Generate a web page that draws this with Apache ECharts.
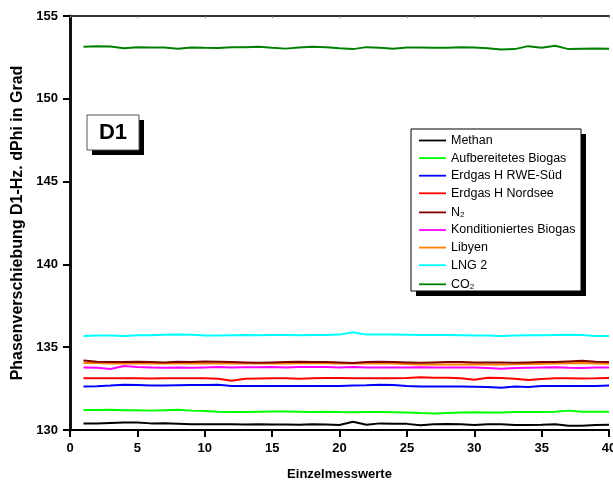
<!DOCTYPE html>
<html>
<head>
<meta charset="utf-8">
<script src="https://cdn.jsdelivr.net/npm/echarts@6/dist/echarts.min.js"></script>
<style>html,body{margin:0;padding:0;background:#fff}#c{width:613px;height:483px}</style>
</head>
<body>
<div id="c"></div>
<script>
var xValues = [];
for (var i = 1; i <= 40; i++) xValues.push(i);

var seriesNames = ['Methan','Aufbereitetes Biogas','Erdgas H RWE-Süd','Erdgas H Nordsee','N2','Konditioniertes Biogas','Libyen','LNG 2','CO2'];
var seriesColors = ['#000000','#00ff00','#0000ff','#ff0000','#800000','#ff00ff','#ff8000','#00ffff','#008000'];

var methan = [130.40,130.39,130.42,130.45,130.46,130.40,130.41,130.38,130.34,130.34,130.34,130.35,130.33,130.34,130.33,130.33,130.31,130.35,130.33,130.30,130.50,130.32,130.40,130.38,130.37,130.28,130.35,130.36,130.34,130.30,130.34,130.34,130.30,130.30,130.31,130.34,130.26,130.26,130.30,130.31];
var aufbereitet = [131.21,131.21,131.22,131.20,131.19,131.17,131.20,131.22,131.17,131.14,131.10,131.09,131.09,131.10,131.11,131.11,131.10,131.09,131.10,131.08,131.07,131.08,131.08,131.07,131.06,131.02,131.00,131.03,131.05,131.07,131.05,131.06,131.08,131.09,131.09,131.10,131.17,131.10,131.10,131.10];
var rweSued = [132.62,132.64,132.68,132.73,132.72,132.69,132.68,132.70,132.71,132.72,132.73,132.66,132.66,132.66,132.66,132.66,132.65,132.66,132.66,132.66,132.68,132.70,132.73,132.71,132.66,132.63,132.63,132.63,132.62,132.61,132.60,132.55,132.63,132.60,132.66,132.66,132.66,132.66,132.66,132.68];
var nordsee = [133.12,133.13,133.13,133.12,133.12,133.11,133.12,133.13,133.13,133.12,133.10,132.98,133.10,133.11,133.12,133.12,133.10,133.12,133.14,133.14,133.12,133.13,133.13,133.13,133.14,133.18,133.15,133.16,133.12,133.03,133.15,133.14,133.10,133.02,133.08,133.12,133.12,133.11,133.12,133.14];
var n2 = [134.20,134.12,134.10,134.10,134.12,134.10,134.08,134.12,134.10,134.14,134.12,134.10,134.08,134.06,134.08,134.10,134.12,134.10,134.10,134.08,134.05,134.10,134.12,134.10,134.08,134.06,134.08,134.10,134.10,134.08,134.07,134.08,134.06,134.08,134.10,134.10,134.14,134.18,134.12,134.10];
var konditioniert = [133.78,133.76,133.68,133.86,133.80,133.78,133.76,133.77,133.76,133.78,133.80,133.78,133.79,133.79,133.80,133.78,133.80,133.80,133.80,133.78,133.80,133.78,133.77,133.78,133.78,133.79,133.78,133.78,133.77,133.77,133.74,133.70,133.74,133.76,133.78,133.79,133.76,133.75,133.77,133.78];
var libyen = [134.05,134.04,134.02,134.03,134.02,134.03,134.02,134.02,134.03,134.02,134.02,134.03,134.02,134.02,134.01,134.02,134.03,134.04,134.03,134.02,134.02,134.02,134.02,134.01,133.98,133.96,133.95,133.95,133.96,133.97,133.96,133.96,133.97,133.99,134.00,134.01,134.03,134.04,134.02,134.00];
var lng2 = [135.68,135.70,135.70,135.68,135.72,135.72,135.75,135.76,135.75,135.70,135.70,135.72,135.73,135.72,135.74,135.73,135.72,135.74,135.74,135.76,135.90,135.76,135.76,135.76,135.75,135.74,135.73,135.73,135.72,135.70,135.70,135.68,135.70,135.72,135.72,135.74,135.75,135.73,135.68,135.68];
var co2 = [153.15,153.17,153.16,153.05,153.12,153.10,153.10,153.02,153.10,153.08,153.07,153.12,153.12,153.15,153.08,153.03,153.10,153.15,153.12,153.05,153.00,153.12,153.08,153.02,153.10,153.10,153.08,153.08,153.12,153.10,153.05,152.98,153.00,153.18,153.08,153.20,153.00,153.02,153.03,153.02];

var allData = [methan, aufbereitet, rweSued, nordsee, n2, konditioniert, libyen, lng2, co2];

var xTicks = [0,5,10,15,20,25,30,35,40];
var yTicks = [130,135,140,145,150,155];

var FONT = '"Liberation Sans", Arial, sans-serif';

var series = seriesNames.map(function (name, k) {
  return {
    name: name,
    type: 'line',
    data: xValues.map(function (x, j) { return [x, allData[k][j]]; }),
    symbol: 'none',
    showSymbol: false,
    smooth: false,
    z: name === 'N2' ? 4 : 3,
    lineStyle: { color: seriesColors[k], width: 2 },
    itemStyle: { color: seriesColors[k] }
  };
});

var chart = echarts.init(document.getElementById('c'), null, { renderer: 'canvas' });
chart.setOption({
  backgroundColor: '#fff',
  animation: false,
  grid: { left: 70, right: 4, top: 16, bottom: 53, containLabel: false, outerBoundsMode: 'none' },
  xAxis: [{
    type: 'value', min: xTicks[0], max: xTicks[xTicks.length - 1], interval: 5,
    position: 'bottom',
    name: 'Einzelmesswerte', nameLocation: 'middle', nameGap: 38,
    nameTextStyle: { fontFamily: FONT, fontWeight: 'bold', fontSize: 13, color: '#000' },
    axisLine: { show: true, lineStyle: { color: '#000', width: 2 } },
    axisTick: { show: true, inside: false, length: 7, lineStyle: { color: '#000', width: 2 } },
    axisLabel: { fontFamily: FONT, fontWeight: 'bold', fontSize: 13, color: '#000', margin: 12 },
    splitLine: { show: false }
  }, {
    type: 'value', min: xTicks[0], max: xTicks[xTicks.length - 1], interval: 5,
    position: 'top',
    axisLine: { show: true, lineStyle: { color: '#333', width: 2 } },
    axisTick: { show: true, inside: true, length: 2, lineStyle: { color: '#777', width: 1 } },
    axisLabel: { show: false },
    splitLine: { show: false }
  }],
  yAxis: [{
    type: 'value', min: yTicks[0], max: yTicks[yTicks.length - 1], interval: 5,
    position: 'left',
    name: 'Phasenverschiebung D1-Hz. dPhi in Grad', nameLocation: 'middle', nameGap: 43,
    nameTextStyle: { fontFamily: FONT, fontWeight: 'bold', fontSize: 16, color: '#000' },
    axisLine: { show: true, lineStyle: { color: '#000', width: 2 } },
    axisTick: { show: true, inside: false, length: 7, lineStyle: { color: '#000', width: 2 } },
    axisLabel: { fontFamily: FONT, fontWeight: 'bold', fontSize: 13, color: '#000', margin: 12 },
    splitLine: { show: false }
  }, {
    type: 'value', min: yTicks[0], max: yTicks[yTicks.length - 1], interval: 5,
    position: 'right',
    axisLine: { show: true, lineStyle: { color: '#111', width: 3 } },
    axisTick: { show: false },
    axisLabel: { show: false },
    splitLine: { show: false }
  }],
  legend: {
    orient: 'vertical',
    left: 419, top: 134,
    padding: 0,
    z: 10,
    itemWidth: 27, itemHeight: 12, itemGap: 4.6,
    icon: 'path://M0,5 L27,5 L27,6.8 L0,6.8 Z',
    data: seriesNames,
    selectedMode: false,
    textStyle: {
      fontFamily: FONT, fontSize: 12.5, color: '#000', lineHeight: 12,
      rich: {
        sub: { fontFamily: FONT, fontSize: 8, color: '#000', lineHeight: 12, verticalAlign: 'bottom', padding: [6, 0, 0, 0] },
        n: { fontFamily: FONT, fontSize: 12.5, color: '#000', lineHeight: 12 }
      }
    },
    formatter: function (name) {
      if (name === 'N2') return '{n|N}{sub|2}';
      if (name === 'CO2') return '{n|CO}{sub|2}';
      return name;
    }
  },
  graphic: [
    { type: 'rect', z: 1, shape: { x: 416, y: 134, width: 170, height: 162 }, style: { fill: '#000' } },
    { type: 'rect', z: 2, shape: { x: 411, y: 129, width: 170, height: 162 }, style: { fill: '#fff', stroke: '#000', lineWidth: 1 } },
    { type: 'rect', z: 1, shape: { x: 92, y: 120, width: 52, height: 35 }, style: { fill: '#000' } },
    { type: 'rect', z: 2, shape: { x: 87, y: 115, width: 52, height: 35 }, style: { fill: '#fff', stroke: '#555', lineWidth: 1 } },
    { type: 'text', z: 3, style: { x: 113, y: 133, text: 'D1', fontFamily: FONT, fontWeight: 'bold', fontSize: 22, fill: '#000', align: 'center', verticalAlign: 'middle' } }
  ],
  series: series
});
</script>
</body>
</html>
